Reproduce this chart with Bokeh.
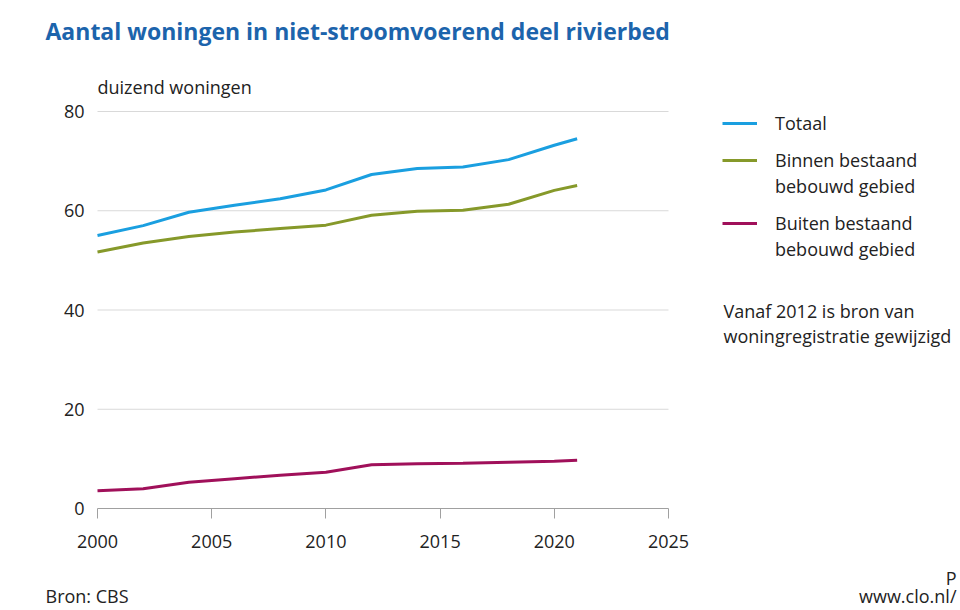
from bokeh.plotting import figure
from bokeh.models import Range1d, Label, Legend, LegendItem, FixedTicker, ColumnDataSource
from bokeh.embed import file_html
from bokeh.resources import INLINE

years = [2000, 2002, 2004, 2006, 2008, 2010, 2012, 2014, 2016, 2018, 2020, 2021]
totaal = [55.0, 57.0, 59.7, 61.1, 62.4, 64.2, 67.3, 68.5, 68.8, 70.3, 73.2, 74.5]
binnen = [51.7, 53.5, 54.8, 55.7, 56.4, 57.1, 59.1, 59.9, 60.1, 61.3, 64.1, 65.1]
buiten = [3.6, 4.0, 5.3, 6.0, 6.7, 7.3, 8.8, 9.0, 9.1, 9.3, 9.5, 9.7]
x_ticks = [2000, 2005, 2010, 2015, 2020, 2025]
y_ticks = [0, 20, 40, 60, 80]

FONT = "Open Sans"
FS = "18px"
BLUE = "#1a9fe0"
GREEN = "#86992a"
PURPLE = "#a0105a"
TXT = "#222222"

W, H = 960, 610
# pixel layout of the plotting area inside the canvas
PL, PR, PT, PB = 97, 668, 111, 508
xs = (x_ticks[-1] - x_ticks[0]) / (PR - PL)
ys = (y_ticks[-1] - y_ticks[0]) / (PB - PT)
x_range = Range1d(x_ticks[0] - PL * xs, x_ticks[-1] + (W - PR) * xs)
y_range = Range1d(y_ticks[0] - (H - PB) * ys, y_ticks[-1] + PT * ys)

p = figure(width=W, height=H, output_backend="svg", toolbar_location=None,
           x_range=x_range, y_range=y_range, min_border=0,
           min_border_left=0, min_border_right=0, min_border_top=0, min_border_bottom=0)
p.outline_line_color = None
p.background_fill_color = "white"
p.border_fill_color = "white"
p.xgrid.grid_line_color = None
p.ygrid.grid_line_color = None

# gridlines limited to the plotting area
gx0 = [x_ticks[0]] * (len(y_ticks) - 1)
gx1 = [x_ticks[-1]] * (len(y_ticks) - 1)
p.segment(x0=gx0, x1=gx1, y0=y_ticks[1:], y1=y_ticks[1:], line_color="#d9d9d9", line_width=1)

# axes at fixed locations
p.xaxis.fixed_location = y_ticks[0]
p.xaxis.bounds = (x_ticks[0], x_ticks[-1])
p.xaxis.ticker = FixedTicker(ticks=x_ticks)
p.xaxis.axis_line_color = "#a0a0a0"
p.xaxis.major_tick_line_color = "#a0a0a0"
p.xaxis.major_tick_out = 10
p.xaxis.major_tick_in = 0
p.xaxis.minor_tick_line_color = None
p.xaxis.major_label_standoff = 16
p.xaxis.major_label_text_font = FONT
p.xaxis.major_label_text_font_size = FS
p.xaxis.major_label_text_color = TXT

p.yaxis.fixed_location = x_ticks[0]
p.yaxis.ticker = FixedTicker(ticks=y_ticks)
p.yaxis.axis_line_color = None
p.yaxis.major_tick_line_color = None
p.yaxis.minor_tick_line_color = None
p.yaxis.major_label_standoff = 7
p.yaxis.major_label_text_font = FONT
p.yaxis.major_label_text_font_size = FS
p.yaxis.major_label_text_color = TXT

src = ColumnDataSource(dict(year=years, totaal=totaal, binnen=binnen, buiten=buiten))
r_tot = p.line("year", "totaal", source=src, line_color=BLUE, line_width=3)
r_bin = p.line("year", "binnen", source=src, line_color=GREEN, line_width=3)
r_bui = p.line("year", "buiten", source=src, line_color=PURPLE, line_width=3)
r_dummy = p.line(x=[], y=[], line_alpha=0)

def make_legend(items, loc, spacing):
    lg = Legend(items=items, location=loc, spacing=spacing, padding=0, margin=0,
                border_line_color=None, background_fill_alpha=0,
                glyph_width=35, glyph_height=26, label_height=26, label_standoff=18,
                label_text_font=FONT, label_text_font_size=FS, label_text_color=TXT)
    p.add_layout(lg)

make_legend([LegendItem(label="Totaal", renderers=[r_tot])], (722, 474), 0)
make_legend([LegendItem(label="Binnen bestaand", renderers=[r_bin]),
             LegendItem(label="bebouwd gebied", renderers=[r_dummy])], (722, 411), 0)
make_legend([LegendItem(label="Buiten bestaand", renderers=[r_bui]),
             LegendItem(label="bebouwd gebied", renderers=[r_dummy])], (722, 348), 0)

def lab(text, x, y, size=FS, color=TXT, style="normal", align="left"):
    p.add_layout(Label(x=x, y=y, x_units="screen", y_units="screen", text=text,
                       text_font=FONT, text_font_size=size, text_color=color,
                       text_font_style=style, text_align=align, text_baseline="middle"))

lab("Aantal woningen in niet-stroomvoerend deel rivierbed", 45, 580, size="23px",
    color="#1c64ac", style="bold")
lab("duizend woningen", 97, 524)
lab("Vanaf 2012 is bron van", 723, 300)
lab("woningregistratie gewijzigd", 723, 275)
lab("Bron: CBS", 45, 15)
lab("P", 956, 33, align="right")
lab("www.clo.nl/", 956, 15, align="right")

open("out.html", "w").write(file_html(p, INLINE))
